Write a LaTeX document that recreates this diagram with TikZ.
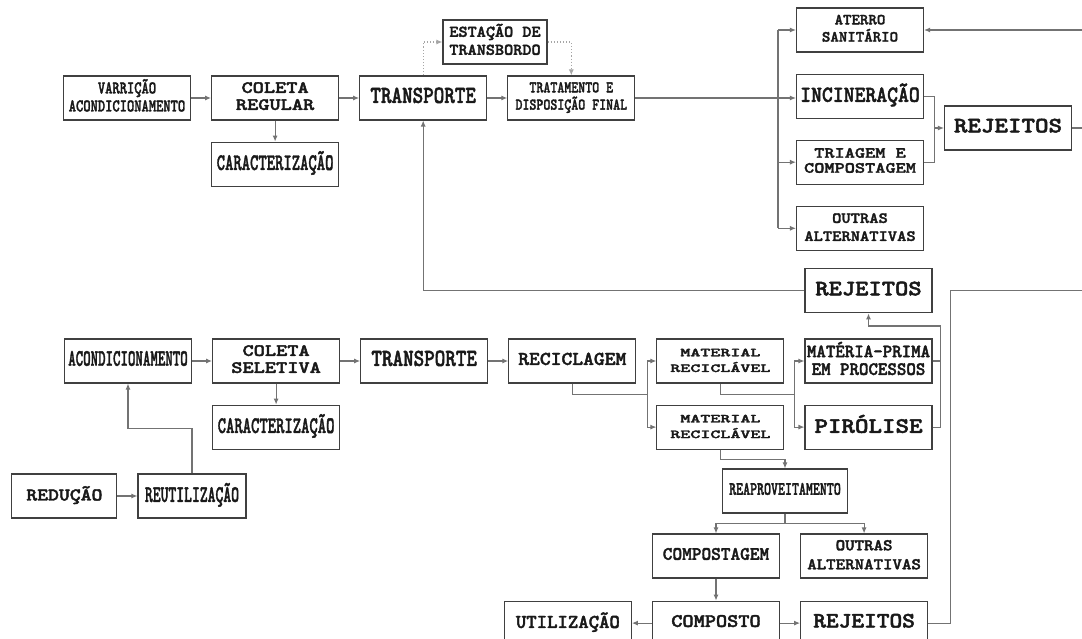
\documentclass[tikz,border=0pt]{standalone}
\usepackage{graphicx}
\usepackage{fontspec}
\usetikzlibrary{arrows.meta, positioning, calc}

\newfontfamily\heavymono[FakeBold=2]{lmmonolt10-bold.otf}
\newcommand{\lblfont}[2]{\heavymono\fontsize{#1}{#2}\selectfont}
\newcommand{\squeeze}[2]{\scalebox{#1}[1]{\begin{tabular}{@{}c@{}}#2\end{tabular}}}

\begin{document}
\begin{tikzpicture}[
    x=1pt, y=-1pt,
    node distance=21pt and 20pt,
    box/.style={rectangle, draw=black!75, line width=1.1pt, minimum width=127pt, minimum height=44pt, inner sep=0pt, text=black!90},
    link/.style={draw=black!55, line width=1.1pt},
    arrow/.style={link, -{Latex[length=6pt, width=5pt]}},
    dotlink/.style={arrow, draw=black!35, dotted}
]
\path[use as bounding box, fill=white] (0,0) rectangle (1082,639);
\clip (0,0) rectangle (1082,639);

% coleta regular
\node[box, font=\lblfont{18}{18}] (varr) at (127,98) {\squeeze{0.77}{VARRIÇÃO\\ACONDICIONAMENTO}};
\node[box, font=\lblfont{17.2}{17}, right=of varr] (colreg) {\squeeze{1.24}{COLETA\\REGULAR}};
\node[box, font=\lblfont{23.7}{23.7}, below=of colreg] (car1) {\squeeze{0.67}{CARACTERIZAÇÃO}};
\node[box, font=\lblfont{24.5}{24.5}, right=of colreg] (transp1) {\squeeze{0.82}{TRANSPORTE}};
\node[box, font=\lblfont{16.4}{14}, right=of transp1] (trat) {\squeeze{0.81}{TRATAMENTO E\\DISPOSIÇÃO FINAL}};
\node[box, minimum width=104pt, font=\lblfont{16.4}{18}] (estacao) at (495,42) {\squeeze{1.06}{ESTAÇÃO DE\\TRANSBORDO}};

% destinos
\node[box, font=\lblfont{15.5}{15}] (aterro) at (860,30) {\squeeze{1.04}{ATERRO\\SANITÁRIO}};
\node[box, font=\lblfont{23}{23}, below=of aterro] (incin) {\squeeze{0.9}{INCINERAÇÃO}};
\node[box, font=\lblfont{15.5}{15}, below=of incin] (triag) {\squeeze{1.25}{TRIAGEM E\\COMPOSTAGEM}};
\node[box, font=\lblfont{15.5}{18}, below=of triag] (outras1) {\squeeze{1.14}{OUTRAS\\ALTERNATIVAS}};
\node[box, font=\lblfont{22}{22}] (rej1) at (1008,128) {\squeeze{1.17}{REJEITOS}};

% coleta seletiva
\node[box, font=\lblfont{23.7}{23.7}] (acond) at (128,361) {\squeeze{0.6}{ACONDICIONAMENTO}};
\node[box, font=\lblfont{17.2}{17}, right=of acond] (colsel) {\squeeze{1.24}{COLETA\\SELETIVA}};
\node[box, font=\lblfont{23.7}{23.7}, below=of colsel] (car2) {\squeeze{0.67}{CARACTERIZAÇÃO}};
\node[box, font=\lblfont{24.5}{24.5}, right=of colsel] (transp2) {\squeeze{0.82}{TRANSPORTE}};
\node[box, font=\lblfont{19.6}{19.6}, right=of transp2] (recic) {\squeeze{1.05}{RECICLAGEM}};
\node[box, font=\lblfont{12.3}{15.7}, right=of recic] (mat1) {\squeeze{1.55}{MATERIAL\\RECICLÁVEL}};
\node[box, font=\lblfont{12.3}{15.7}, below=of mat1] (mat2) {\squeeze{1.55}{MATERIAL\\RECICLÁVEL}};
\node[box, font=\lblfont{18.8}{17.7}, right=of mat1] (prima) {\squeeze{0.96}{MATÉRIA-PRIMA\\EM PROCESSOS}};
\node[box, font=\lblfont{22}{22}, below=of prima] (pirol) {\squeeze{1.17}{PIRÓLISE}};
\node[box, font=\lblfont{22}{22}, above=25pt of prima] (rej2) {\squeeze{1.15}{REJEITOS}};

% reducao
\node[box, minimum width=108pt, font=\lblfont{23.7}{23.7}] (reutil) at (192,496) {\squeeze{0.63}{REUTILIZAÇÃO}};
\node[box, minimum width=105pt, font=\lblfont{18}{18}, left=of reutil] (redu) {\squeeze{1.15}{REDUÇÃO}};

% reaproveitamento
\node[box, minimum width=125pt, font=\lblfont{19}{19}] (reap) at (785,491) {\squeeze{0.7}{REAPROVEITAMENTO}};
\node[box, font=\lblfont{19}{19}] (compost) at (716,556) {\squeeze{0.97}{COMPOSTAGEM}};
\node[box, font=\lblfont{16.4}{19}, right=of compost] (outras2) {\squeeze{1.1}{OUTRAS\\ALTERNATIVAS}};
\node[box, font=\lblfont{19}{19}, below=22pt of compost] (composto) {\squeeze{1.12}{COMPOSTO}};
\node[box, font=\lblfont{19.6}{19.6}, left=of composto] (util) {\squeeze{1.01}{UTILIZAÇÃO}};
\node[box, font=\lblfont{22}{22}, right=of composto] (rej3) {\squeeze{1.1}{REJEITOS}};

\coordinate (split) at (778,0);
\coordinate (edge) at (1090,0);

% fluxo coleta regular
\draw[arrow] (varr.east) -- (colreg.west);
\draw[arrow] (colreg.east) -- (transp1.west);
\draw[arrow] (transp1.east) -- (trat.west);
\draw[arrow] (colreg.south) -- (car1.north);
\draw[dotlink] (transp1.north) |- (estacao.west);
\draw[dotlink] (estacao.east) -| (trat.north);
\draw[arrow] (trat.east) -- (trat.east -| incin.west);
\draw[link] (split |- aterro.west) -- (split |- outras1.west);
\draw[arrow] (split |- aterro.west) -- (aterro.west);
\draw[arrow] (split |- triag.west) -- (triag.west);
\draw[arrow] (split |- outras1.west) -- (outras1.west);
\draw[link] (incin.east) -- ++(10,0) coordinate (b1) |- (triag.east);
\draw[arrow] (b1 |- rej1.west) -- (rej1.west);
\draw[link] (rej1.east) -- (rej1.east -| edge);
\draw[arrow] (edge |- aterro.east) -- (aterro.east);

% fluxo coleta seletiva
\draw[arrow] (acond.east) -- (colsel.west);
\draw[arrow] (colsel.east) -- (transp2.west);
\draw[arrow] (transp2.east) -- (recic.west);
\draw[arrow] (colsel.south) -- (car2.north);
\coordinate (s1) at ($(mat1.south west)!.5!(mat2.north west)+(-9,0)$);
\draw[arrow] (recic.south) |- (s1) |- (mat1.west);
\draw[arrow] (s1) |- (mat2.west);
\coordinate (s2) at ($(prima.south west)!.5!(pirol.north west)+(-10,0)$);
\draw[arrow] (mat1.south) |- (s2) |- (prima.west);
\draw[arrow] (s2) |- (pirol.west);
\draw[link] (prima.east) -- ++(8,0) coordinate (b2);
\coordinate (t2) at ($(rej2.south)!.5!(prima.north)$);
\draw[arrow] (pirol.east) -| (t2 -| b2) -| (rej2.south);
\draw[arrow] (rej2.west) -| (transp1.south);
\draw[link] (rej3.east) -- ++(22,0) |- (edge |- rej2.east);

% reducao
\draw[arrow] (redu.east) -- (reutil.west);
\draw[arrow] (reutil.north) |- ($(acond.south)!.5!(reutil.north)$) -| (acond.south);

% reaproveitamento
\draw[arrow] (mat2.south) -- ++(0,10) -| (reap.north);
\draw[arrow] (reap.south) -- ++(0,10) coordinate (s3) -| (compost.north);
\draw[arrow] (s3) -| (outras2.north);
\draw[arrow] (compost.south) -- (composto.north);
\draw[arrow] (composto.west) -- (util.east);
\draw[arrow] (composto.east) -- (rej3.west);
\end{tikzpicture}
\end{document}
